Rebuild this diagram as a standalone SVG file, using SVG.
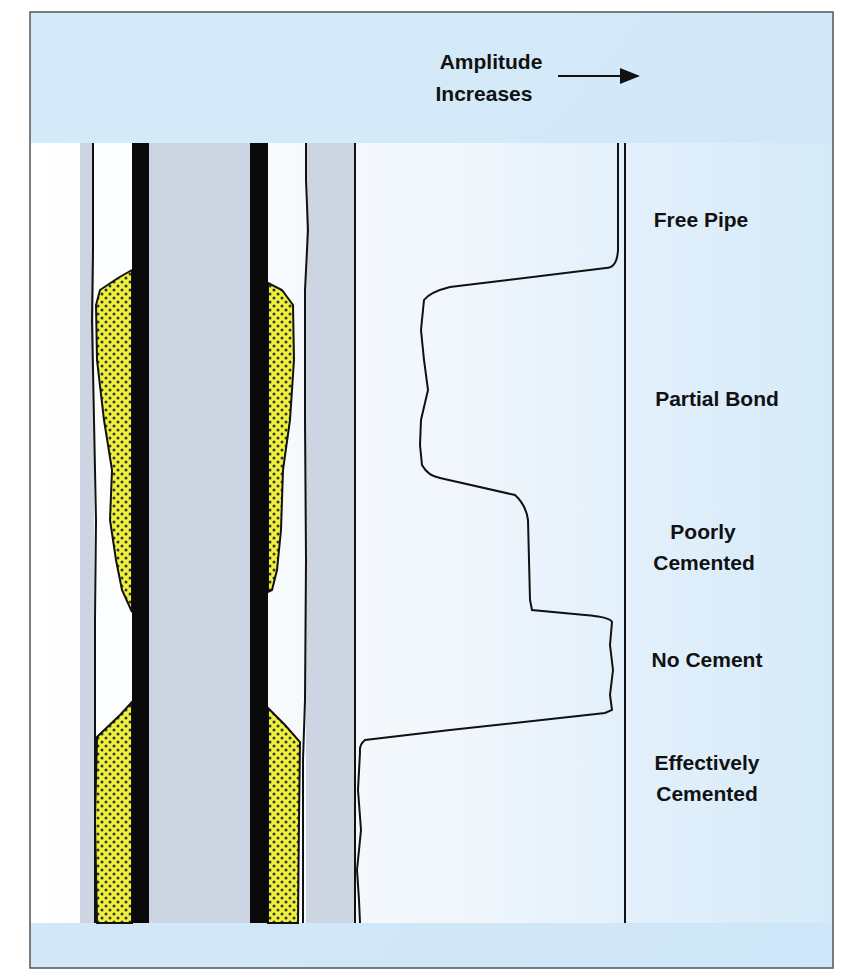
<svg xmlns="http://www.w3.org/2000/svg" width="866" height="980" viewBox="0 0 866 980">
<defs>
<linearGradient id="pg" x1="31" x2="832" y1="0" y2="0" gradientUnits="userSpaceOnUse"><stop offset="0" stop-color="#ffffff"/><stop offset="0.55" stop-color="#f0f6fc"/><stop offset="0.75" stop-color="#e2f0fb"/><stop offset="1" stop-color="#d6eaf9"/></linearGradient>
<linearGradient id="bg" x1="0" x2="1" y1="0" y2="1"><stop offset="0" stop-color="#d6ebf9"/><stop offset="1" stop-color="#cfe6f8"/></linearGradient>
<pattern id="dots" width="8" height="8" patternUnits="userSpaceOnUse"><rect width="8" height="8" fill="#eef03a"/><circle cx="2" cy="2" r="1.5" fill="#333"/><circle cx="6" cy="6" r="1.5" fill="#333"/></pattern>
<marker id="ah" markerWidth="10" markerHeight="8" refX="9" refY="4" orient="auto"><path d="M0,0 L10,4 L0,8 z" fill="#111"/></marker>
<style>
.t{font-family:"Liberation Sans",Arial,sans-serif;font-size:21px;font-weight:bold;fill:#111;text-anchor:middle}
.ln{fill:none;stroke:#111;stroke-width:2}
.cem{fill:url(#dots);stroke:#111;stroke-width:2}
</style>
</defs>
<rect x="30" y="12" width="803" height="956" fill="url(#bg)" stroke="#555" stroke-width="1.5"/>
<rect x="31" y="143" width="801" height="780" fill="url(#pg)"/>
<g id="well">
<rect x="80" y="143" width="14" height="780" fill="#cdd4e2"/>
<rect x="149" y="143" width="101" height="780" fill="#cdd4e2"/>
<rect x="306" y="143" width="49" height="780" fill="#cdd4e2"/>
<path class="ln" d="M93,143 L93,250 L92,320 L94,420 L96,520 L95,620 L95,700 L95,923"/>
<path class="ln" d="M306,143 L306,180 L308,230 L305,290 L305,420 L306,560 L305,700 L303,760 L303,923"/>
<path class="ln" d="M355,143 L355,923"/>
<g id="cement">
<path class="cem" d="M132,270 L118,278 L100,290 L96,305 L97,360 L104,420 L112,470 L110,520 L116,560 L122,590 L132,612 Z"/>
<path class="cem" d="M268,283 L282,290 L293,305 L294,360 L290,420 L283,470 L281,530 L277,570 L272,590 L268,592 Z"/>
<path class="cem" d="M132,702 L120,715 L97,737 L95,820 L97,923 L132,923 Z"/>
<path class="cem" d="M268,708 L285,725 L300,742 L299,820 L298,923 L268,923 Z"/>
</g>
<rect x="132" y="143" width="17" height="780" fill="#0a0a0a"/>
<rect x="250" y="143" width="18" height="780" fill="#0a0a0a"/>
</g>
<g id="log">
<path class="ln" d="M625,143 L625,923"/>
<path class="ln" stroke-width="2.2" d="M618,143 L618,250 Q617,268 606,268 L450,287 Q430,292 424,300 L421,330 L424,360 L428,390 L421,420 L420,445 L422,465 Q428,476 440,478 L515,495 Q526,505 528,520 L529,560 L530,600 L532,610 L585,615 Q610,617 612,622 L610,645 L613,670 L610,695 L612,710 L605,713 L450,730 L365,740 Q359,745 360,752 L358,790 L361,830 L357,870 L359,900 L360,923"/>
</g>
<g id="labels">
<text class="t" x="491" y="69">Amplitude</text>
<text class="t" x="484" y="101">Increases</text>
<path d="M558,76 L638,76" stroke="#111" stroke-width="2" marker-end="url(#ah)"/>
<text class="t" x="701" y="227">Free Pipe</text>
<text class="t" x="717" y="406">Partial Bond</text>
<text class="t" x="703" y="539">Poorly</text>
<text class="t" x="704" y="570">Cemented</text>
<text class="t" x="707" y="667">No Cement</text>
<text class="t" x="707" y="770">Effectively</text>
<text class="t" x="707" y="801">Cemented</text>
</g>
</svg>
